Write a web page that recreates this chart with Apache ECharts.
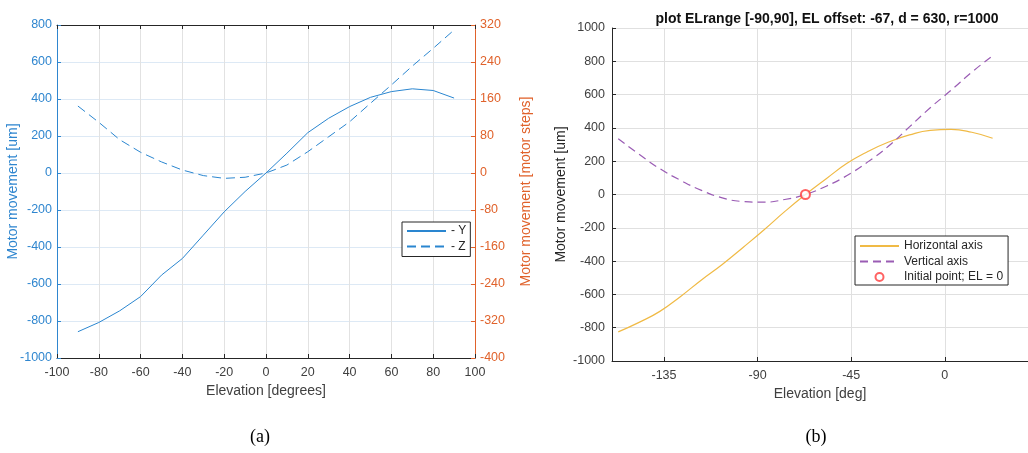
<!DOCTYPE html>
<html>
<head>
<meta charset="utf-8">
<script src="https://cdn.jsdelivr.net/npm/echarts@6/dist/echarts.min.js"></script>
<style>
  html, body { margin: 0; padding: 0; background: #fff; }
  #chart { width: 1028px; height: 453px; }
</style>
</head>
<body>
<div id="chart"></div>
<script>
// (a) elevation sweep, left axis in um
var elevA  = [-90, -80, -70, -60, -50, -40, -30, -20, -10, 0, 10, 20, 30, 40, 50, 60, 70, 80, 90];
var motorY = [-858, -808, -745, -668, -552, -462, -336, -210, -100, 0, 107, 218, 296, 359, 409, 440, 455, 446, 405];
var motorZ = [362, 274, 180, 112, 60, 16, -14, -29, -23, 0, 43, 115, 196, 277, 377, 476, 578, 674, 773];

// (b) ELrange [-90,90] with offset -67
var elevB  = [-157, -147, -137, -127, -117, -107, -97, -87, -77, -67, -57, -47, -37, -27, -17, -7, 3, 13, 23];
var horiz  = [-825, -768, -702, -612, -513, -420, -318, -213, -103, 0, 95, 187, 258, 315, 358, 385, 391, 374, 338];
var vert   = [335, 242, 155, 85, 25, -20, -42, -46, -30, 0, 50, 114, 196, 291, 406, 521, 626, 735, 833];
var initPoint = [-67, 0];
var ticksB = [-135, -90, -45, 0];

var pairs = function(xs, ys){
    var out = [];
    for (var i = 0; i < xs.length; i++) out.push([xs[i], ys[i]]);
    return out;
};
var plain = function(v){ return String(v); };

var BLUE = '#2f86cf', ORANGE = '#e0622b', DARK = '#262626', GREY = '#404040';
var TICK = 12.5, NAME = 14;

var chart = echarts.init(document.getElementById('chart'));
var option = {
    animation: false,
    textStyle: { fontFamily: 'Liberation Sans, Arial, sans-serif' },
    title: {
        text: 'plot ELrange [-90,90], EL offset: -67, d = 630, r=1000',
        left: 822, top: 7, textAlign: 'center',
        textStyle: { fontSize: 14, fontWeight: 'bold', color: '#111' }
    },
    grid: [
        { left: 57, top: 25, width: 418, height: 333 },
        { left: 612, top: 28, width: 421, height: 333 }
    ],
    legend: [
        {
            data: [{ name: '- Y', itemStyle: { opacity: 0 } }, { name: '- Z', itemStyle: { opacity: 0 } }],
            orient: 'vertical', left: 402, top: 222,
            itemWidth: 39, itemHeight: 8, itemGap: 3.5,
            padding: [3, 4, 4, 4],
            borderColor: DARK, borderWidth: 1, backgroundColor: '#fff',
            textStyle: { fontSize: 12, color: DARK }
        },
        {
            data: [
                { name: 'Horizontal axis', itemStyle: { opacity: 0 } },
                { name: 'Vertical axis', itemStyle: { opacity: 0 } },
                'Initial point; EL = 0'
            ],
            orient: 'vertical', left: 855, top: 236,
            itemWidth: 39, itemHeight: 8, itemGap: 3.5,
            padding: [4, 5, 2, 4],
            borderColor: DARK, borderWidth: 1, backgroundColor: '#fff',
            textStyle: { fontSize: 12, color: DARK }
        }
    ],
    xAxis: [
        {
            gridIndex: 0, type: 'value', min: -100, max: 100, interval: 20,
            axisLine: { onZero: false, lineStyle: { color: DARK } },
            axisTick: { inside: true, length: 4, lineStyle: { color: DARK } },
            axisLabel: { color: GREY, fontSize: TICK, margin: 8, formatter: plain },
            splitLine: { lineStyle: { color: '#e2e2e2' } },
            name: 'Elevation [degrees]', nameLocation: 'middle', nameGap: 25,
            nameTextStyle: { color: GREY, fontSize: NAME }
        },
        {
            gridIndex: 0, type: 'value', position: 'top', min: -100, max: 100, interval: 20,
            axisLine: { onZero: false, lineStyle: { color: DARK } },
            axisTick: { inside: true, length: 4, lineStyle: { color: DARK } },
            axisLabel: { show: false },
            splitLine: { show: false }
        },
        {
            gridIndex: 1, type: 'value', min: -160, max: 40,
            axisLine: { onZero: false, lineStyle: { color: DARK } },
            axisTick: { inside: true, length: 4, customValues: ticksB, lineStyle: { color: DARK } },
            axisLabel: { color: GREY, fontSize: TICK, margin: 8, customValues: ticksB, formatter: plain },
            splitLine: { lineStyle: { color: '#e0e0e0' } },
            name: 'Elevation [deg]', nameLocation: 'middle', nameGap: 26,
            nameTextStyle: { color: GREY, fontSize: NAME }
        }
    ],
    yAxis: [
        {
            gridIndex: 0, type: 'value', min: -1000, max: 800, interval: 200,
            axisLine: { show: true, onZero: false, lineStyle: { color: BLUE } },
            axisTick: { show: true, inside: true, length: 4, lineStyle: { color: BLUE } },
            axisLabel: { color: BLUE, fontSize: TICK, margin: 5, formatter: plain },
            splitLine: { lineStyle: { color: '#dde9f5' } },
            name: 'Motor movement [um]', nameLocation: 'middle', nameGap: 37, nameRotate: 90,
            nameMoveOverlap: false,
            nameTextStyle: { color: BLUE, fontSize: NAME }
        },
        {
            gridIndex: 0, type: 'value', position: 'right', min: -400, max: 320, interval: 80,
            axisLine: { show: true, onZero: false, lineStyle: { color: ORANGE } },
            axisTick: { show: true, inside: true, length: 4, lineStyle: { color: ORANGE } },
            axisLabel: { color: ORANGE, fontSize: TICK, margin: 5, formatter: plain },
            splitLine: { show: false },
            name: 'Motor movement [motor steps]', nameLocation: 'middle', nameGap: 44, nameRotate: 90,
            nameTextStyle: { color: ORANGE, fontSize: NAME }
        },
        {
            gridIndex: 1, type: 'value', min: -1000, max: 1000, interval: 200,
            axisLine: { show: true, onZero: false, lineStyle: { color: DARK } },
            axisTick: { show: true, inside: true, length: 4, lineStyle: { color: DARK } },
            axisLabel: { color: GREY, fontSize: TICK, margin: 7, formatter: plain },
            splitLine: { lineStyle: { color: '#e0e0e0' } },
            name: 'Motor movement [um]', nameLocation: 'middle', nameGap: 44, nameRotate: 90,
            nameTextStyle: { color: DARK, fontSize: NAME }
        }
    ],
    series: [
        {
            name: '- Y', type: 'line', xAxisIndex: 0, yAxisIndex: 0,
            data: pairs(elevA, motorY), symbol: 'none',
            lineStyle: { color: '#2a86d0', width: 1 }, itemStyle: { color: '#2a86d0' }
        },
        {
            name: '- Z', type: 'line', xAxisIndex: 0, yAxisIndex: 0,
            data: pairs(elevA, motorZ), symbol: 'none',
            lineStyle: { color: '#2a86d0', width: 1, type: [9, 5] }, itemStyle: { color: '#2a86d0' }
        },
        {
            name: 'Horizontal axis', type: 'line', xAxisIndex: 2, yAxisIndex: 2,
            data: pairs(elevB, horiz), symbol: 'none', smooth: true,
            lineStyle: { color: '#f0ba45', width: 1.2 }, itemStyle: { color: '#f0ba45' }
        },
        {
            name: 'Vertical axis', type: 'line', xAxisIndex: 2, yAxisIndex: 2,
            data: pairs(elevB, vert), symbol: 'none', smooth: true,
            lineStyle: { color: '#9a5cb4', width: 1.2, type: [8, 5] }, itemStyle: { color: '#9a5cb4' }
        },
        {
            name: 'Initial point; EL = 0', type: 'scatter', xAxisIndex: 2, yAxisIndex: 2,
            data: [initPoint], symbol: 'emptyCircle', symbolSize: 9, z: 5,
            itemStyle: { color: '#ff3b3b', borderColor: '#ff3b3b', borderWidth: 1.3 }
        }
    ],
    graphic: [
        { type: 'text', x: 260, y: 437, style: { text: '(a)', fill: '#000', font: '18px "Liberation Serif", "DejaVu Serif", serif', textAlign: 'center', textVerticalAlign: 'middle' } },
        { type: 'text', x: 816, y: 437, style: { text: '(b)', fill: '#000', font: '18px "Liberation Serif", "DejaVu Serif", serif', textAlign: 'center', textVerticalAlign: 'middle' } }
    ]
};
chart.setOption(option);
</script>
</body>
</html>
